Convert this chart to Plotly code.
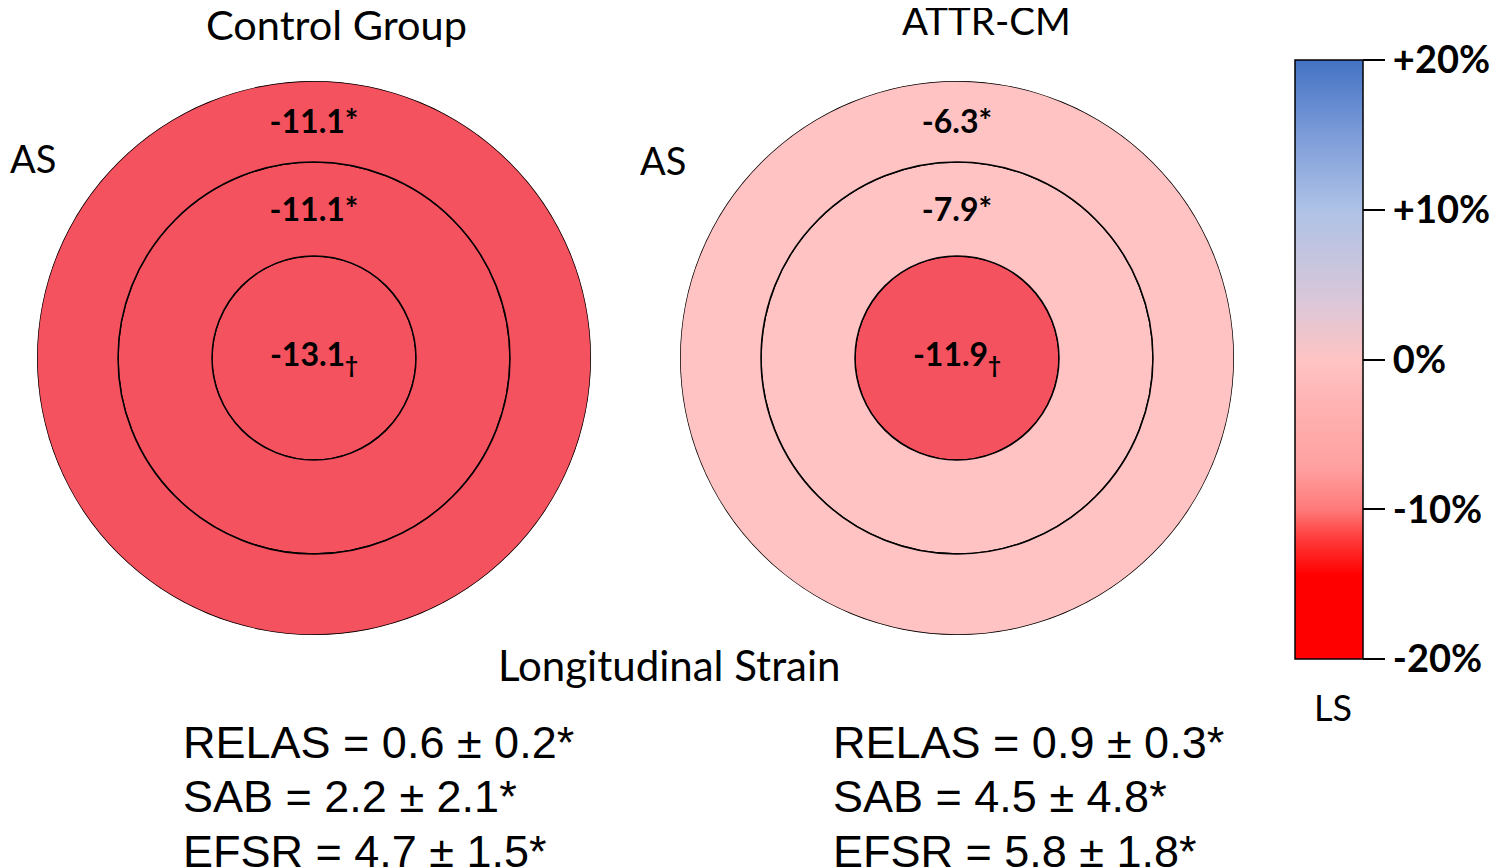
import plotly.graph_objects as go

# page offset: the browser adds an 8px body margin around the figure
OFF = 8
W, H = 1500 - OFF, 868 - OFF

# ---------------- data ----------------
groups = ["Control Group", "ATTR-CM"]
segments = ["Apical", "Mid", "Basal"]          # inner -> outer ring
control_ls = [-13.1, -11.1, -11.1]
attr_ls = [-11.9, -7.9, -6.3]
control_marks = ["†", "*", "*"]
attr_marks = ["†", "*", "*"]

stat_names = ["RELAS", "SAB", "EFSR"]
control_mean = [0.6, 2.2, 4.7]
control_sd = [0.2, 2.1, 1.5]
attr_mean = [0.9, 4.5, 5.8]
attr_sd = [0.3, 4.8, 1.8]

cbar_vals = [-20, -10, 0, 10, 20]
cbar_text = ["-20%", "-10%", "0%", "+10%", "+20%"]

# ---------------- geometry / style ----------------
ring_edges = [0, 102, 196, 277]      # radial axis units (px-like)
label_r = [0, 145, 233]
R_MAX = 277
CAL = "Lato"
ARIAL = "Liberation Sans"

def px(x, y):
    """reference-page pixel -> paper fraction"""
    return (x - OFF) / W, 1 - (y - OFF) / H

# ring colours used in the figure (values below -10% are shown strong)
ring_scale = [[0, "#F5525F"], [0.25, "#F5525F"], [0.25, "#FFC3C3"], [1, "#FFC3C3"]]
bar_scale = [
    [0.0, "#FF0000"], [0.14, "#FF0000"], [0.20, "#FF3A3A"], [0.25, "#FF7A7A"],
    [0.32, "#FFA0A0"], [0.42, "#FFB2B2"], [0.5, "#FFC4C4"], [0.6, "#D9C7D9"],
    [0.75, "#AEC2E6"], [0.88, "#7A9AD8"], [1.0, "#4472C4"],
]

fig = go.Figure()

centers = [314, 957]
CY = 358
for i, (vals, marks) in enumerate(zip([control_ls, attr_ls], [control_marks, attr_marks])):
    pname = "polar" if i == 0 else "polar2"
    bases = ring_edges[:-1]
    widths = [ring_edges[k + 1] - ring_edges[k] for k in range(3)]
    fig.add_trace(go.Barpolar(
        r=widths, base=bases, theta=[0, 0, 0], width=[360, 360, 360],
        marker=dict(color=vals, colorscale=ring_scale, cmin=-20, cmax=20, showscale=False,
                    line=dict(color="black", width=1.5)),
        subplot=pname, hoverinfo="skip", showlegend=False,
    ))
    texts = []
    for v, m in zip(vals, marks):
        if m == "†":
            texts.append(f"{v:.1f}<sub>{m}</sub>")
        else:
            texts.append(f"{v:.1f}{m}")
    fig.add_trace(go.Scatterpolar(
        r=label_r, theta=[90, 90, 90], mode="text", text=texts,
        textfont=dict(family=CAL, size=32, color="black", weight="bold"),
        textposition="middle center", subplot=pname, hoverinfo="skip", showlegend=False,
    ))

# colour bar
cbx, cby = px(1295, 359.5)
fig.add_trace(go.Scatter(
    x=[0], y=[0], mode="markers", hoverinfo="skip", showlegend=False,
    marker=dict(color=[0], opacity=0, colorscale=bar_scale, cmin=-20, cmax=20, showscale=True,
                colorbar=dict(
                    x=cbx, xanchor="left", xpad=0, ypad=0,
                    y=cby, yanchor="middle", len=599, lenmode="pixels",
                    thickness=68, thicknessmode="pixels",
                    outlinecolor="black", outlinewidth=1.5,
                    ticks="outside", ticklen=22, tickwidth=1.5, tickcolor="black",
                    tickvals=cbar_vals, ticktext=cbar_text,
                    tickfont=dict(family=CAL, size=38, color="black", weight="bold"),
                )),
))

polar_common = dict(
    bgcolor="rgba(0,0,0,0)", barmode="overlay", hole=0,
    radialaxis=dict(visible=False, range=[0, R_MAX]),
    angularaxis=dict(visible=False),
)
x0a, yb = px(centers[0] - R_MAX, CY + R_MAX)
x1a, yt = px(centers[0] + R_MAX, CY - R_MAX)
x0b, _ = px(centers[1] - R_MAX, 0)
x1b, _ = px(centers[1] + R_MAX, 0)

annotations = []
def ann(text, x, y, size, family=CAL, xanchor="center", weight="normal"):
    xp, yp = px(x, y)
    annotations.append(dict(text=text, x=xp, y=yp, xref="paper", yref="paper", showarrow=False,
                            xanchor=xanchor, yanchor="middle",
                            font=dict(family=family, size=size, color="black", weight=weight)))

ann(groups[0], 336, 24, 41.5)
ann(groups[1], 986, 20, 38.5)
ann("AS", OFF, 158, 38, xanchor="left")
ann("AS", 638, 160, 38, xanchor="left")
ann("Longitudinal Strain", 669, 665, 42)
ann("LS", 1333, 707, 36)

line_y = [742, 796, 851]
for k, name in enumerate(stat_names):
    ann(f"{name} = {control_mean[k]} ± {control_sd[k]}*", 181, line_y[k], 45, family=ARIAL, xanchor="left")
    ann(f"{name} = {attr_mean[k]} ± {attr_sd[k]}*", 831, line_y[k], 45, family=ARIAL, xanchor="left")

fig.update_layout(
    width=W, height=H, margin=dict(l=0, r=0, t=0, b=0),
    paper_bgcolor="white", plot_bgcolor="white", template="none",
    polar=dict(domain=dict(x=[x0a, x1a], y=[yb, yt]), **polar_common),
    polar2=dict(domain=dict(x=[x0b, x1b], y=[yb, yt]), **polar_common),
    xaxis=dict(visible=False, domain=[0.86, 0.87]),
    yaxis=dict(visible=False, domain=[0.0, 0.01]),
    annotations=annotations,
    showlegend=False,
)

fig.write_html("out.html")
